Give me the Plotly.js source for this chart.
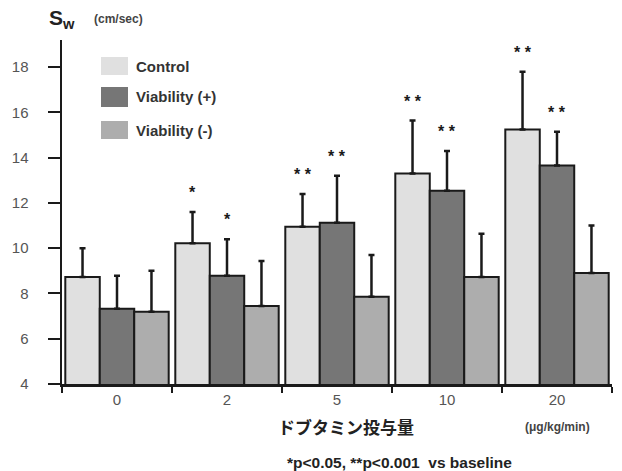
<!DOCTYPE html>
<html><head><meta charset="utf-8">
<script src="https://cdn.plot.ly/plotly-3.0.1.min.js"></script>
<style>html,body{margin:0;padding:0;background:#fff}#c{width:622px;height:471px}</style>
</head><body><div id="c"></div>
<script>
const doses = ['0', '2', '5', '10', '20'];
const seriesNames = ['Control', 'Viability (+)', 'Viability (-)'];
const controlMean = [8.73, 10.22, 10.95, 13.3, 15.24];
const controlSD = [1.27, 1.38, 1.45, 2.34, 2.56];
const viabPlusMean = [7.32, 8.78, 11.12, 12.54, 13.65];
const viabPlusSD = [1.46, 1.62, 2.08, 1.76, 1.5];
const viabMinusMean = [7.19, 7.45, 7.85, 8.73, 8.9];
const viabMinusSD = [1.81, 1.99, 1.85, 1.91, 2.1];
const controlSig = ['', '*', '**', '**', '**'];
const viabPlusSig = ['', '*', '**', '**', '**'];
const viabMinusSig = ['', '', '', '', ''];

const colors = ['#e0e0e0', '#767676', '#adadad'];
const means = [controlMean, viabPlusMean, viabMinusMean];
const sds = [controlSD, viabPlusSD, viabMinusSD];
const sigs = [controlSig, viabPlusSig, viabMinusSig];
const FONT = 'Liberation Sans, Arial, sans-serif';

const traces = means.map((m, i) => ({
  type: 'bar', x: doses, y: m, name: seriesNames[i],
  marker: {color: colors[i], line: {color: '#1a1a1a', width: 2}},
  error_y: {type: 'data', array: sds[i], arrayminus: sds[i].map(() => 0), symmetric: false,
            color: '#1a1a1a', thickness: 2.5, width: 3},
  showlegend: false, hoverinfo: 'skip'
}));

const annotations = [];
const barGap = 0.06;
const barW = (1 - barGap) / 3;
const offs = [-barW, 0, barW];
sigs.forEach((s, i) => s.forEach((t, j) => {
  if (!t) return;
  annotations.push({x: j + offs[i], y: means[i][j] + sds[i][j], xref: 'x', yref: 'y',
    text: '<b>' + t.split('').join(' ') + '</b>',
    showarrow: false, yshift: 9, yanchor: 'bottom',
    font: {family: FONT, size: 16, color: '#1a1a1a'}});
}));

// legend (drawn manually)
const shapes = [];
const legY = [[57, 75], [87, 107], [121, 139]];
const legTextY = [66, 97, 130];
seriesNames.forEach((n, i) => {
  shapes.push({type: 'rect', xref: 'paper', yref: 'paper',
    x0: (101 - 62) / 550, x1: (128 - 62) / 550,
    y0: (384 - legY[i][1]) / 344, y1: (384 - legY[i][0]) / 344,
    fillcolor: colors[i], line: {width: 0}});
  annotations.push({xref: 'paper', yref: 'paper', x: (134 - 62) / 550, y: (384 - legTextY[i]) / 344,
    xanchor: 'left', yanchor: 'middle', text: '<b>' + n + '</b>', showarrow: false,
    font: {family: FONT, size: 15, color: '#333'}});
});

annotations.push({xref: 'paper', yref: 'paper', x: (47 - 62) / 550, y: (384 - 19) / 344, xanchor: 'left', yanchor: 'middle',
  text: '<b>S<sub>w</sub></b>', showarrow: false, font: {family: FONT, size: 21, color: '#222'}});
annotations.push({xref: 'paper', yref: 'paper', x: (92 - 62) / 550, y: (384 - 19) / 344, xanchor: 'left', yanchor: 'middle',
  text: '<b>(cm/sec)</b>', showarrow: false, font: {family: FONT, size: 12, color: '#444'}});
annotations.push({xref: 'paper', yref: 'paper', x: (346 - 62) / 550, y: (384 - 426) / 344, xanchor: 'center', yanchor: 'middle',
  text: '<b>ドブタミン投与量</b>', showarrow: false, font: {family: 'Noto Sans CJK JP', size: 17, color: '#222'}});
annotations.push({xref: 'paper', yref: 'paper', x: (557 - 62) / 550, y: (384 - 427) / 344, xanchor: 'center', yanchor: 'middle',
  text: '<b>(μg/kg/min)</b>', showarrow: false, font: {family: FONT, size: 12, color: '#444'}});
annotations.push({xref: 'paper', yref: 'paper', x: (399 - 62) / 550, y: (384 - 462) / 344, xanchor: 'center', yanchor: 'middle',
  text: '<b>*p<0.05, **p<0.001  vs baseline</b>', showarrow: false, font: {family: FONT, size: 15.5, color: '#222'}});

const layout = {
  width: 622, height: 471,
  margin: {l: 62, r: 10, t: 40, b: 87},
  paper_bgcolor: '#fff', plot_bgcolor: '#fff',
  barmode: 'group', bargap: barGap, bargroupgap: 0,
  xaxis: {type: 'category', range: [-0.5, 4.5], showline: true, linecolor: '#1a1a1a', linewidth: 2.5,
    ticks: 'outside', tickson: 'boundaries', ticklen: 6, tickwidth: 2, tickcolor: '#1a1a1a',
    showgrid: false, zeroline: false,
    tickfont: {family: FONT, size: 15, color: '#555'}},
  yaxis: {range: [4, 19.2], tickvals: [4, 6, 8, 10, 12, 14, 16, 18], showline: true, linecolor: '#1a1a1a', linewidth: 2.5,
    ticks: 'outside', ticklen: 12, tickwidth: 2, tickcolor: '#1a1a1a', showgrid: false, zeroline: false,
    tickfont: {family: FONT, size: 15, color: '#555'}, ticklabelstandoff: 16},
  shapes: shapes, annotations: annotations, showlegend: false
};
Plotly.newPlot('c', traces, layout, {staticPlot: true});
</script></body></html>
